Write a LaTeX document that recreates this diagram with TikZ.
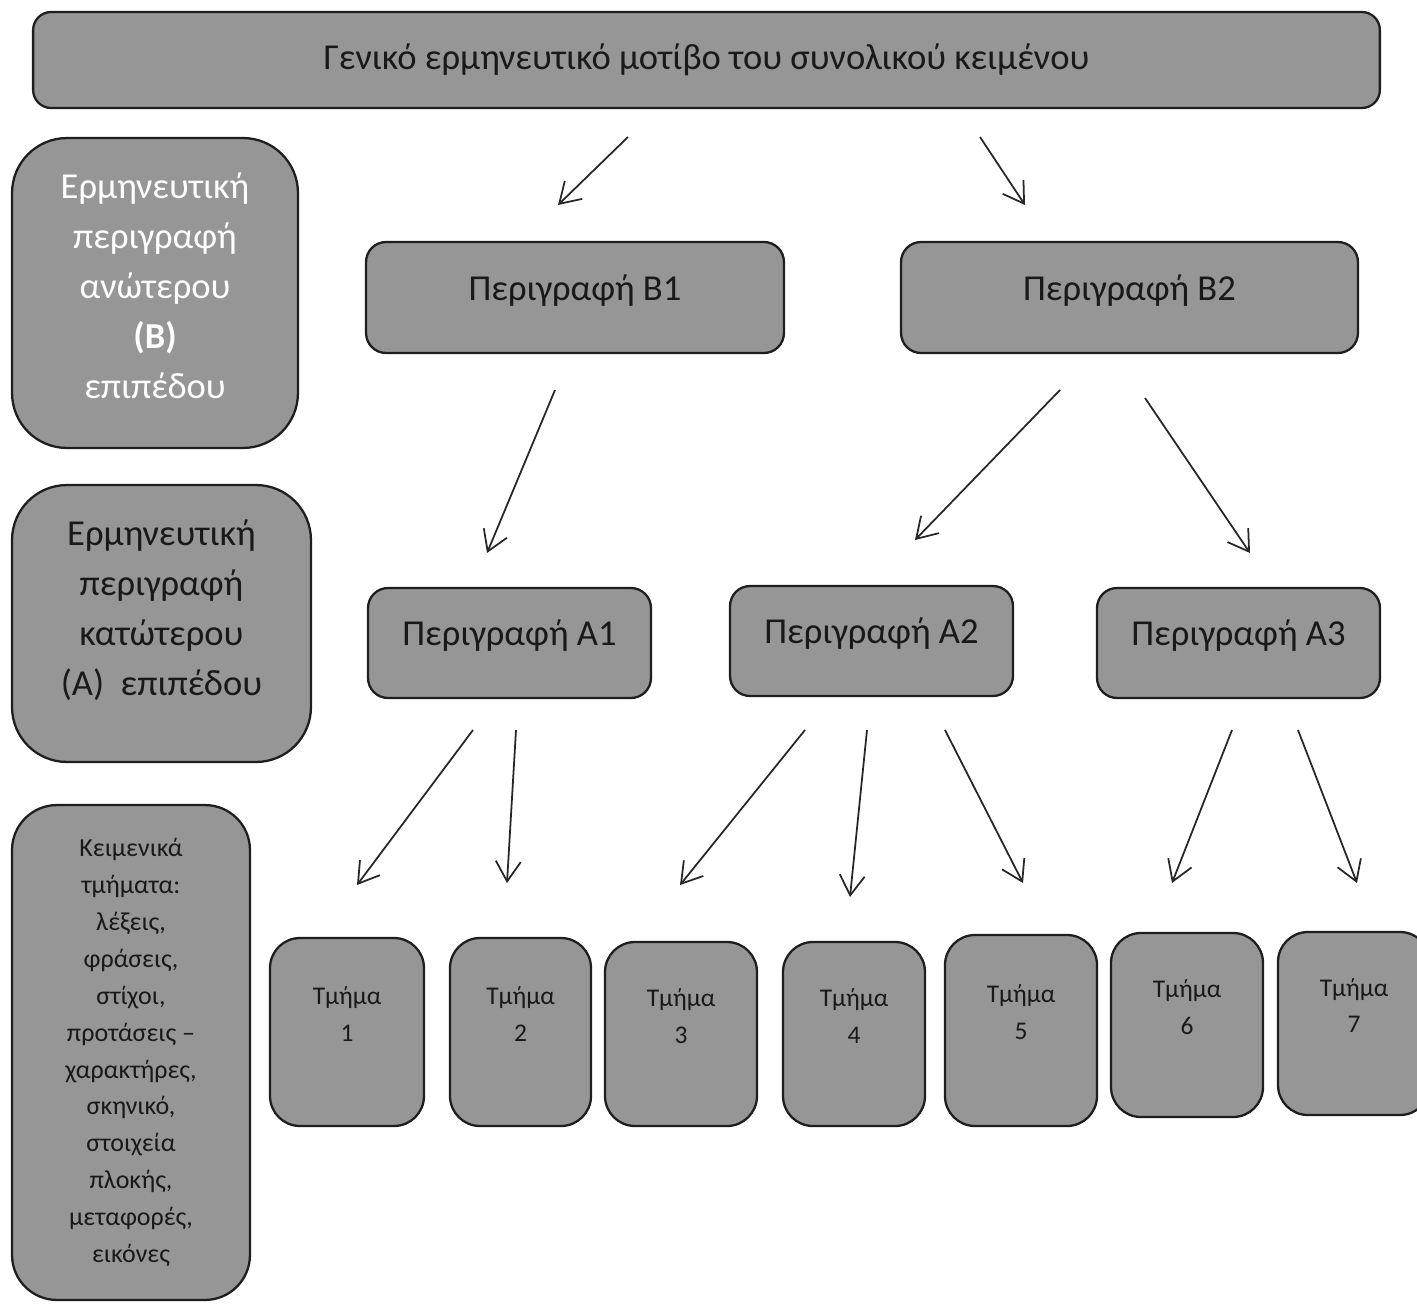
\documentclass[tikz,border=0pt]{standalone}
\usepackage{fontspec}
\setmainfont{Carlito}
\usetikzlibrary{positioning}
\usetikzlibrary{arrows.meta}

\definecolor{boxgray}{RGB}{150,150,150}
\definecolor{boxline}{RGB}{30,30,30}

\tikzset{
  box/.style={draw=boxline, line width=1.3pt, fill=boxgray, rounded corners=#1,
    inner sep=0pt, align=center, text=black!90},
  box/.default=0.4cm,
  bigfont/.style={font=\fontsize{20.8}{28.5}\selectfont},
  onebase/.style={font=\fontsize{20.8}{25}\selectfont, text height=0.55cm, text depth=0.45cm},
  tmtext/.style={align=center, text=black!90, font=\fontsize{14.5}{21}\selectfont},
  arr/.style={-{Straight Barb[length=4mm,width=5mm]}, line width=1pt, black!85},
}

\begin{document}
\begin{tikzpicture}[x=0.02cm, y=-0.02cm]
  \useasboundingbox (0,0) rectangle (1417,1305);

  % top bar
  \node[box=0.36cm, minimum width=26.94cm, minimum height=1.92cm,
        font=\fontsize{20.8}{25}\selectfont] (top) at (706.5,60)
        {Γενικό ερμηνευτικό μοτίβο του συνολικού κειμένου};

  % level boxes on the left
  \node[box=1.1cm, bigfont, text=white, minimum width=5.72cm, minimum height=6.2cm, text depth=0.3cm]
        (lvlB) at (155,293) {Ερμηνευτική\\περιγραφή\\ανώτερου\\\textbf{(Β)}\\επιπέδου};
  \node[box=1.1cm, bigfont, minimum width=5.98cm, minimum height=5.54cm, text depth=0.62cm]
        (lvlA) at (161.5,623.5) {Ερμηνευτική\\περιγραφή\\κατώτερου\\(Α)\ \ επιπέδου};
  \node[box=0.9cm, minimum width=4.76cm, minimum height=9.9cm,
        font=\fontsize{14.8}{21}\selectfont] (lvlT) at (131,1052.5)
        {Κειμενικά\\τμήματα:\\λέξεις,\\φράσεις,\\στίχοι,\\προτάσεις –\\χαρακτήρες,\\σκηνικό,\\στοιχεία\\πλοκής,\\μεταφορές,\\εικόνες};

  % B level
  \node[box, onebase, minimum width=8.36cm, minimum height=2.22cm] (b1) at (575,297.5) {Περιγραφή Β1};
  \node[box, onebase, minimum width=9.14cm, minimum height=2.22cm] (b2) at (1129.5,297.5) {Περιγραφή Β2};

  % A level
  \node[box, onebase, minimum width=5.66cm, minimum height=2.2cm] (a1) at (509.5,643) {Περιγραφή Α1};
  \node[box, onebase, minimum width=5.66cm, minimum height=2.2cm] (a2) at (871.5,641) {Περιγραφή Α2};
  \node[box, onebase, minimum width=5.66cm, minimum height=2.2cm] (a3) at (1238.5,643) {Περιγραφή Α3};

  % text parts
  \foreach \n/\x/\y/\w/\h in {1/347/1032/154/188, 2/520.5/1032/141/188, 3/681/1034/152/184,
      4/854/1034/142/184, 5/1021/1030.5/152/191, 6/1187/1025/152/184, 7/1354/1023.5/152/183} {
    \node[box=0.6cm, minimum width=\w*0.02cm, minimum height=\h*0.02cm] (t\n) at (\x,\y) {};
    \node[tmtext] (t\n txt) at ([yshift=0.36cm]t\n.center) {Τμήμα\\\n};
  }

  % arrows
  \foreach \nm/\xa/\ya/\xb/\yb in {g1/628/137/558/205, g2/980/137/1025/205,
      b1a/555/390/487/553, b2a/1060/390/915/540, b2b/1145/398/1250/553,
      a1a/473/730/357/885, a1b/516/730/507/883,
      a2a/805/730/680/885, a2b/867/730/850/897, a2c/945/730/1023/883,
      a3a/1232/730/1172/883, a3b/1298/730/1357/883} {
    \coordinate (\nm-s) at (\xa,\ya);
    \coordinate (\nm-e) at (\xb,\yb);
    \draw[arr] (\nm-s) -- (\nm-e);
  }
\end{tikzpicture}
\end{document}
